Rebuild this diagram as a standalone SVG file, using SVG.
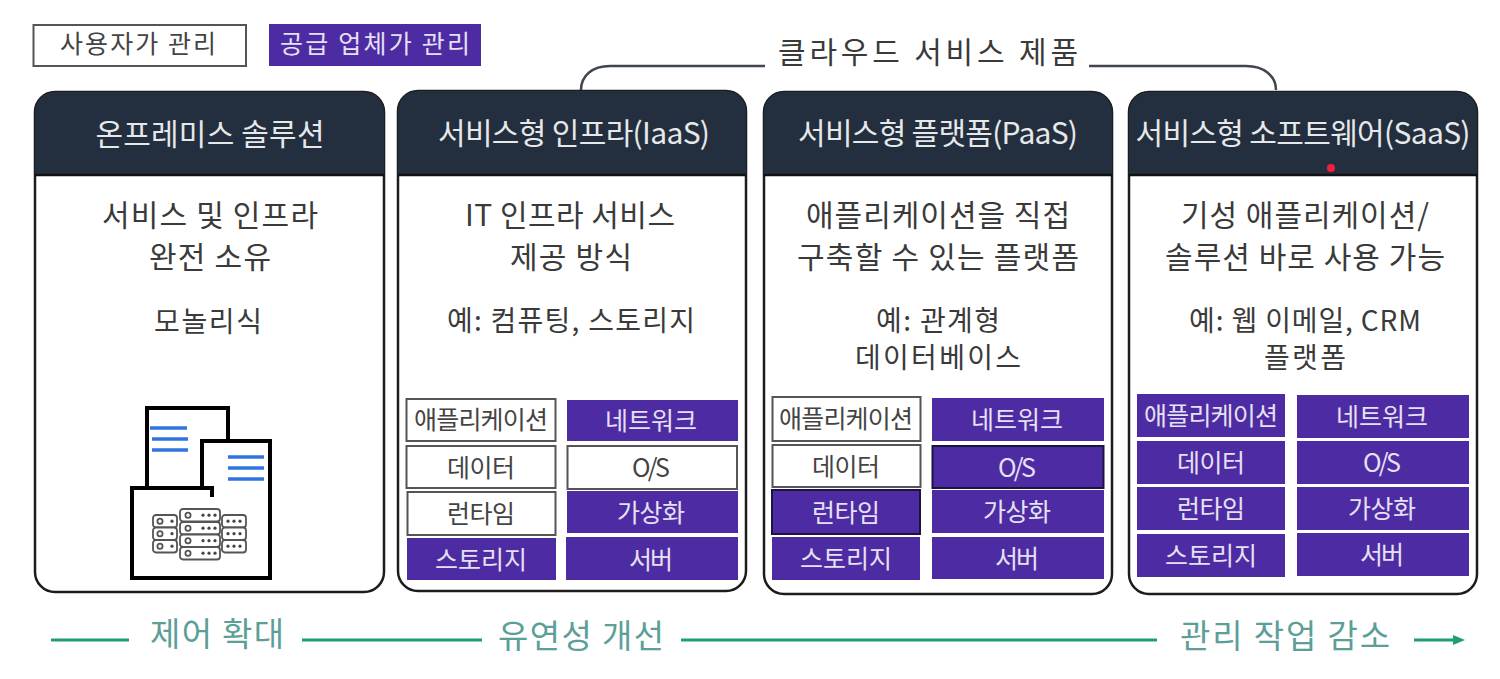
<svg xmlns="http://www.w3.org/2000/svg" width="1500" height="679" viewBox="0 0 1500 679">
<style>
text{font-family:"Noto Sans CJK KR","Noto Sans",sans-serif;text-anchor:middle}
.t{font-size:30px;fill:#3a3a3a}
.s{font-size:28px}
.h{font-size:30px;fill:#e6e8ea}
.c{font-size:25px}
.g{font-size:33px;fill:#5c9e98}
.k{fill:#fff;stroke:#555;stroke-width:2}
.p{fill:#4d2ca3}
.dk{stroke:#1c1440;stroke-width:2}
.k+text{fill:#444}
.p+text{fill:#e6e0f2}
.card{fill:#fff;stroke:#1c1c1c;stroke-width:2.5}
.head{fill:#232f3e}
.hl{stroke:#111;stroke-width:2.5}
.conn{fill:none;stroke:#3f4650;stroke-width:2.5}
.gl{stroke:#1f9d77;stroke-width:3;fill:none}
.ic{fill:none;stroke:#000;stroke-width:4}
.bl{stroke:#2f74e0;stroke-width:3.5}
.sv{fill:#fff;stroke:#555;stroke-width:1.8}
.dot{fill:#444}
</style>
<defs>
<g id="u1"><rect class="sv" width="40" height="12.5" rx="3"/><circle class="sv" cx="8" cy="6.2" r="2.6"/><circle class="dot" cx="23" cy="6.2" r="1.6"/><circle class="dot" cx="29" cy="6.2" r="1.6"/><circle class="dot" cx="35" cy="6.2" r="1.6"/></g>
<g id="ul"><rect class="sv" width="24" height="12.5" rx="3"/><circle class="sv" cx="7" cy="6.2" r="2.6"/><circle class="dot" cx="19" cy="6.2" r="1.6"/></g>
<g id="ur"><rect class="sv" width="24" height="12.5" rx="3"/><circle class="dot" cx="6" cy="6.2" r="1.6"/><circle class="dot" cx="12" cy="6.2" r="1.6"/><circle class="dot" cx="18" cy="6.2" r="1.6"/></g>
</defs>
<rect width="1500" height="679" fill="#fff"/>
<g id="connectors">
<path class="conn" d="M581 90C581 76 592 66 610 66H765"/>
<path class="conn" d="M1089 66H1246C1264 66 1276 76 1276 90"/>
<path class="gl" d="M51 640H129M302 640H482M681 640H1157M1414 640H1456"/>
<path d="M1465 640L1453 635V645Z" fill="#1f9d77"/>
</g>
<g id="legend-user"><rect class="k" x="33.500" y="25" width="212.500" height="41"/><text class="c" x="138" y="53" textLength="156">사용자가 관리</text></g>
<g id="legend-vendor"><rect class="p" x="269" y="24" width="212" height="42"/><text class="c" x="375" y="53" textLength="190">공급 업체가 관리</text></g>
<g id="cloud-label"><text class="t" x="928" y="63" textLength="300">클라우드 서비스 제품</text></g>

<g id="card-onprem">
<rect class="card" x="35" y="92" width="349" height="500" rx="20"/>
<path class="head" d="M35 175V112a20 20 0 0 1 20-20H364a20 20 0 0 1 20 20V175Z"/><path class="hl" d="M35 175H384"/>
<text class="h" x="210" y="145" textLength="229">온프레미스 솔루션</text>
<text class="t" x="210" y="226" textLength="216">서비스 및 인프라</text>
<text class="t" x="210" y="268" textLength="122">완전 소유</text>
<text class="t s" x="208" y="332" textLength="108">모놀리식</text>
<g id="onprem-icon">
<path class="ic" d="M147 488V408H228V441"/>
<path class="ic" d="M202 488V441H270V578H132V488H212V497"/>
<path class="bl" d="M150 428H187M152 439H188M152 450H188M228 457H264M228 468H264M228 479H264"/>
<use href="#ul" x="153" y="515"/><use href="#ul" x="153" y="527.500"/><use href="#ul" x="153" y="540"/>
<use href="#ur" x="222" y="515"/><use href="#ur" x="222" y="527.500"/><use href="#ur" x="222" y="540"/>
<use href="#u1" x="180" y="509"/><use href="#u1" x="180" y="522"/><use href="#u1" x="180" y="534.500"/><use href="#u1" x="180" y="547"/>
</g>
</g>

<g id="card-iaas">
<rect class="card" x="398" y="91" width="348" height="500" rx="20"/>
<path class="head" d="M398 175V111a20 20 0 0 1 20-20H726a20 20 0 0 1 20 20V175Z"/><path class="hl" d="M398 175H746"/>
<text class="h" x="574" y="144" textLength="272">서비스형 인프라(IaaS)</text>
<text class="t" x="570" y="226" textLength="210">IT 인프라 서비스</text>
<text class="t" x="571" y="268" textLength="122">제공 방식</text>
<text class="t s" x="571" y="331" textLength="248">예: 컴퓨팅, 스토리지</text>
<g id="i-app"><rect class="k" x="406.500" y="399" width="149" height="42"/><text class="c" x="481" y="429" textLength="134">애플리케이션</text></g>
<g id="i-data"><rect class="k" x="406.500" y="446" width="149" height="42"/><text class="c" x="481" y="477" textLength="68">데이터</text></g>
<g id="i-runtime"><rect class="k" x="407.500" y="492" width="148" height="43"/><text class="c" x="481" y="523" textLength="68">런타임</text></g>
<g id="i-storage"><rect class="p" x="407" y="538" width="149" height="42"/><text class="c" x="481" y="569" textLength="92">스토리지</text></g>
<g id="i-net"><rect class="p" x="567" y="400" width="171" height="41"/><text class="c" x="651" y="430" textLength="92">네트워크</text></g>
<g id="i-os"><rect class="k" x="567.500" y="446" width="169.500" height="43"/><text class="c" x="651" y="477" textLength="38">O/S</text></g>
<g id="i-virt"><rect class="p" x="567" y="491" width="171" height="42"/><text class="c" x="651" y="522" textLength="68">가상화</text></g>
<g id="i-server"><rect class="p" x="566" y="537" width="172" height="43"/><text class="c" x="651" y="569" textLength="44">서버</text></g>
</g>

<g id="card-paas">
<rect class="card" x="764" y="92" width="348" height="502" rx="20"/>
<path class="head" d="M764 175V112a20 20 0 0 1 20-20H1092a20 20 0 0 1 20 20V175Z"/><path class="hl" d="M764 175H1112"/>
<text class="h" x="938" y="144" textLength="280">서비스형 플랫폼(PaaS)</text>
<text class="t" x="938" y="226" textLength="264">애플리케이션을 직접</text>
<text class="t" x="938" y="268" textLength="282">구축할 수 있는 플랫폼</text>
<text class="t s" x="938" y="331" textLength="124">예: 관계형</text>
<text class="t s" x="938" y="368" textLength="166">데이터베이스</text>
<g id="p-app"><rect class="k" x="772.500" y="397" width="148" height="44"/><text class="c" x="846" y="428" textLength="134">애플리케이션</text></g>
<g id="p-data"><rect class="k" x="772.500" y="445" width="148" height="42"/><text class="c" x="846" y="476" textLength="68">데이터</text></g>
<g id="p-runtime"><rect class="p dk" x="772" y="490" width="148" height="44"/><text class="c" x="846" y="522" textLength="68">런타임</text></g>
<g id="p-storage"><rect class="p" x="772" y="537" width="148" height="43"/><text class="c" x="846" y="568" textLength="92">스토리지</text></g>
<g id="p-net"><rect class="p" x="932" y="398" width="172" height="43"/><text class="c" x="1017" y="429" textLength="92">네트워크</text></g>
<g id="p-os"><rect class="p dk" x="932.500" y="446" width="171" height="42"/><text class="c" x="1017" y="477" textLength="38">O/S</text></g>
<g id="p-virt"><rect class="p" x="932" y="490" width="172" height="43"/><text class="c" x="1017" y="521" textLength="68">가상화</text></g>
<g id="p-server"><rect class="p" x="932" y="537" width="172" height="42"/><text class="c" x="1017" y="568" textLength="44">서버</text></g>
</g>

<g id="card-saas">
<rect class="card" x="1129" y="92" width="348" height="502" rx="20"/>
<path class="head" d="M1129 175V112a20 20 0 0 1 20-20H1457a20 20 0 0 1 20 20V175Z"/><path class="hl" d="M1129 175H1477"/>
<text class="h" x="1303" y="144" textLength="335">서비스형 소프트웨어(SaaS)</text>
<text class="t" x="1305" y="226" textLength="248">기성 애플리케이션/</text>
<text class="t" x="1305" y="268" textLength="280">솔루션 바로 사용 가능</text>
<text class="t s" x="1305" y="331" textLength="232">예: 웹 이메일, CRM</text>
<text class="t s" x="1305" y="368" textLength="82">플랫폼</text>
<g id="s-app"><rect class="p" x="1137" y="394" width="148" height="43"/><text class="c" x="1211" y="425" textLength="134">애플리케이션</text></g>
<g id="s-data"><rect class="p" x="1137" y="441" width="148" height="43"/><text class="c" x="1211" y="472" textLength="68">데이터</text></g>
<g id="s-runtime"><rect class="p" x="1137" y="487" width="148" height="43"/><text class="c" x="1211" y="518" textLength="68">런타임</text></g>
<g id="s-storage"><rect class="p" x="1137" y="534" width="148" height="43"/><text class="c" x="1211" y="565" textLength="92">스토리지</text></g>
<g id="s-net"><rect class="p" x="1297" y="395" width="172" height="43"/><text class="c" x="1382" y="426" textLength="92">네트워크</text></g>
<g id="s-os"><rect class="p" x="1297" y="441" width="172" height="43"/><text class="c" x="1382" y="472" textLength="38">O/S</text></g>
<g id="s-virt"><rect class="p" x="1297" y="487" width="172" height="43"/><text class="c" x="1382" y="518" textLength="68">가상화</text></g>
<g id="s-server"><rect class="p" x="1297" y="533" width="172" height="43"/><text class="c" x="1382" y="564" textLength="44">서버</text></g>
<circle cx="1331" cy="168" r="4" fill="#f0203c"/>
</g>

<g id="axis-labels">
<text class="g" x="217" y="646" textLength="134">제어 확대</text>
<text class="g" x="581" y="648" textLength="166">유연성 개선</text>
<text class="g" x="1285" y="648" textLength="210">관리 작업 감소</text>
</g>
</svg>
